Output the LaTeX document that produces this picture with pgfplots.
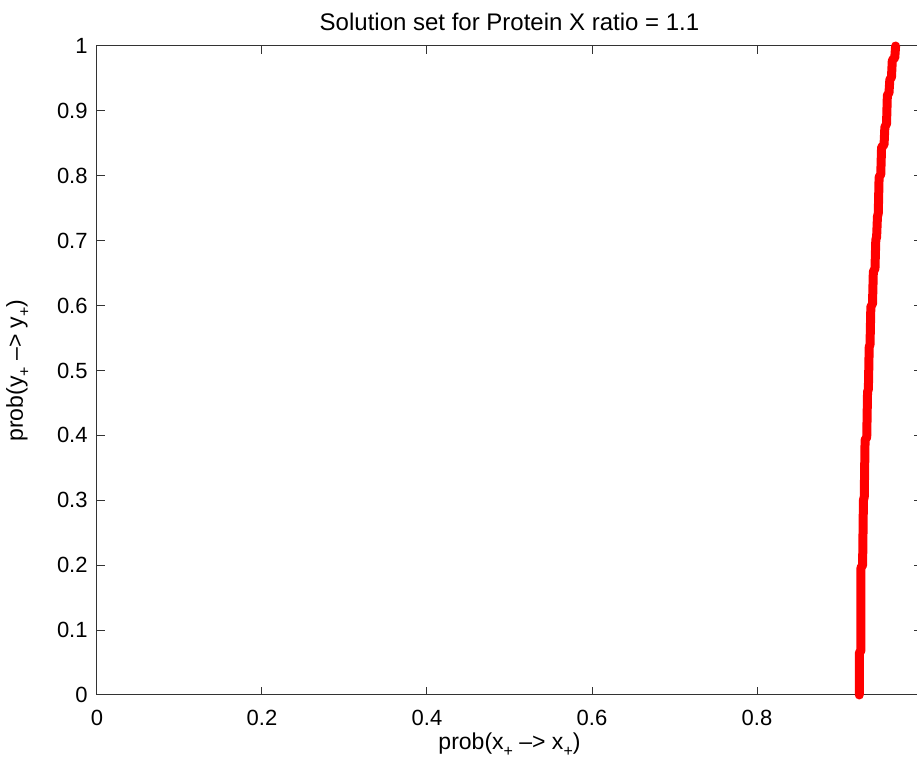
\documentclass[border=0pt]{standalone}
\usepackage{fontspec}
\setmainfont{Liberation Sans}
\usepackage{pgfplots}
\pgfplotsset{compat=1.18}
\newcommand{\sub}[1]{\raisebox{-0.55ex}{\footnotesize #1}}

\begin{document}
\begin{tikzpicture}
  \useasboundingbox (-48.5pt,-32.5pt) rectangle (410pt,347.5pt);
  \begin{axis}[
      at={(0,0)}, anchor=south west,
      width=412.5pt, height=324.5pt, scale only axis,
      xmin=0, xmax=1, ymin=0, ymax=1,
      xtick={0,0.2,...,1}, ytick={0,0.1,...,1},
      tick align=inside, major tick length=3.8pt,
      tick style={black!80, line width=0.5pt},
      axis line style={black!80, line width=0.5pt},
      /pgf/number format/assume math mode=true,
      tick label style={font=\fontsize{11}{13}\selectfont},
      xticklabel style={anchor=center, yshift=-11.5pt, inner sep=0pt},
      yticklabel style={anchor=east, xshift=-4.5pt, inner sep=0pt},
      title={Solution set for Protein X ratio = 1.1},
      title style={font=\fontsize{12}{14}\selectfont, at={(axis description cs:0.5,1)}, anchor=center, yshift=6pt},
      xlabel={prob(x\sub{+} \textendash{}> x\sub{+})},
      xlabel style={font=\fontsize{11.5}{13}\selectfont, at={(axis description cs:0.5,0)}, anchor=center, yshift=-25pt},
      ylabel={prob(y\sub{+} \textendash{}> y\sub{+})},
      ylabel style={font=\fontsize{11.5}{13}\selectfont, at={(axis description cs:0,0.5)}, anchor=center, yshift=39.5pt},
      clip=false,
    ]
    \addplot[red, line width=4.5pt, line cap=round, line join=round] coordinates {
      (0.924,0) (0.924,0.065) (0.926,0.068) (0.926,0.196) (0.928,0.200)
      (0.929,0.300) (0.930,0.305) (0.931,0.393) (0.933,0.397) (0.934,0.467)
      (0.935,0.471) (0.936,0.536) (0.937,0.540) (0.938,0.598) (0.940,0.603)
      (0.941,0.652) (0.943,0.657) (0.944,0.701) (0.945,0.706) (0.946,0.737)
      (0.947,0.742) (0.948,0.798) (0.950,0.802) (0.951,0.844) (0.954,0.848)
      (0.955,0.875) (0.957,0.880) (0.958,0.924) (0.960,0.928) (0.961,0.948)
      (0.963,0.952) (0.964,0.978) (0.967,0.982) (0.968,1.0)
    };
  \end{axis}
\end{tikzpicture}
\end{document}
